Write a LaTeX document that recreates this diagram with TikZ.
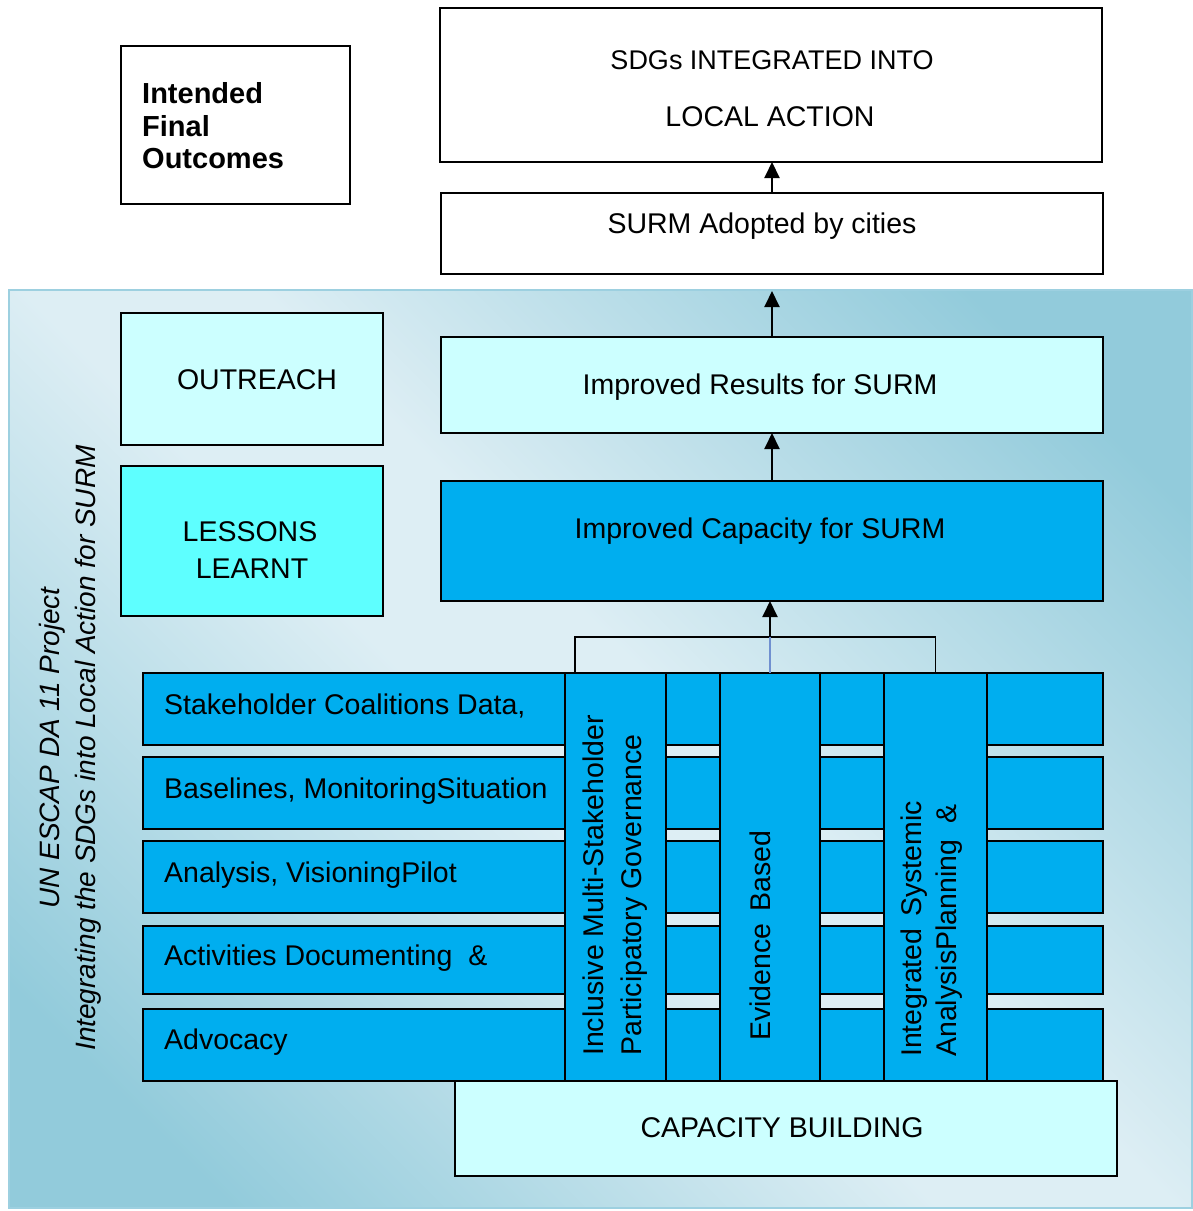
\documentclass[tikz,border=0pt]{standalone}
\usepackage{fontspec}
\setmainfont{Liberation Sans}
\usetikzlibrary{arrows.meta}
\definecolor{bgdark}{HTML}{92CBDB}
\definecolor{bglight}{HTML}{DDEEF4}
\definecolor{bgedge}{HTML}{9DD0E0}
\definecolor{paleC}{HTML}{CCFFFF}
\definecolor{cyanC}{HTML}{5EFFFF}
\definecolor{blueC}{HTML}{00AEEF}
\definecolor{linkblue}{HTML}{7090D0}
\pgfdeclarehorizontalshading{bgshade}{100bp}{color(0bp)=(bgdark); color(22bp)=(bgdark); color(46bp)=(bglight); color(54bp)=(bglight); color(78bp)=(bgdark); color(100bp)=(bgdark)}
\begin{document}
\begin{tikzpicture}[x=1pt,y=-1pt,
  box/.style={draw=black, line width=1.8pt, inner sep=0pt, outer sep=0pt, anchor=north west},
  txt/.style={inner sep=0pt, anchor=base, font=\fontsize{28.5}{34}\selectfont},
  ltxt/.style={txt, anchor=base west},
  rtxt/.style={inner sep=0pt, anchor=base west, rotate=90, font=\fontsize{28.5}{34}\selectfont},
  arr/.style={-{Triangle[width=15pt,length=16pt]}, line width=2pt}]
\useasboundingbox (0,0) rectangle (1193,1211);
\fill[white] (0,0) rectangle (1193,1211);
\shade[shading=bgshade, shading angle=45] (9,290) rectangle (1192,1208);
\draw[bgedge, line width=2pt] (9,290) rectangle (1192,1208);
% top outcome boxes
\node[box, fill=white, line width=1.4pt, minimum width=229, minimum height=158] (ifo) at (121,46) {};
\node[box, fill=white, minimum width=662, minimum height=154] (sdgs) at (440,8) {};
\node[box, fill=white, minimum width=662, minimum height=81] (sadopt) at (441,193) {};
% left boxes
\node[box, fill=paleC, minimum width=262, minimum height=132] (outr) at (121,313) {};
\node[box, fill=cyanC, minimum width=262, minimum height=150] (lessons) at (121,466) {};
% right boxes
\node[box, fill=paleC, minimum width=662, minimum height=96] (impres) at (441,337) {};
\node[box, fill=blueC, minimum width=662, minimum height=120] (impcap) at (441,481) {};
% rows
\node[box, fill=blueC, minimum width=960, minimum height=72] (r1) at (143,673) {};
\node[box, fill=blueC, minimum width=960, minimum height=72] (r2) at (143,757) {};
\node[box, fill=blueC, minimum width=960, minimum height=72] (r3) at (143,841) {};
\node[box, fill=blueC, minimum width=960, minimum height=68] (r4) at (143,926) {};
\node[box, fill=blueC, minimum width=960, minimum height=72] (r5) at (143,1009) {};
% columns
\node[box, fill=blueC, minimum width=101, minimum height=408] (c1) at (565,673) {};
\node[box, fill=blueC, minimum width=100, minimum height=408] (c2) at (720,673) {};
\node[box, fill=blueC, minimum width=103, minimum height=408] (c3) at (884,673) {};
% capacity building
\node[box, fill=paleC, minimum width=662, minimum height=95] (capb) at (455,1081) {};
% texts
\node[ltxt, font=\bfseries\fontsize{29}{33}\selectfont] (ifo1) at (142,103) {Intended};
\node[ltxt, font=\bfseries\fontsize{29}{33}\selectfont] (ifo2) at (142,136) {Final};
\node[ltxt, font=\bfseries\fontsize{29}{33}\selectfont] (ifo3) at (142,168) {Outcomes};
\node[txt, font=\fontsize{27}{33}\selectfont] (sdg1) at (772,69.5) {SDGs INTEGRATED INTO};
\node[txt] (sdg2) at (770,126) {LOCAL ACTION};
\node[txt] (sad) at (762,233) {SURM Adopted by cities};
\node[txt] (outt) at (257,389) {OUTREACH};
\node[txt] (les1) at (250,541) {LESSONS};
\node[txt] (les2) at (252,578) {LEARNT};
\node[txt] (irt) at (760,394) {Improved Results for SURM};
\node[txt] (ict) at (760,538) {Improved Capacity for SURM};
\node[ltxt] (rt1) at (164,714) {Stakeholder Coalitions Data,};
\node[ltxt] (rt2) at (164,798) {Baselines, MonitoringSituation};
\node[ltxt] (rt3) at (164,882) {Analysis, VisioningPilot};
\node[ltxt] (rt4) at (164,965) {Activities Documenting\ \ \&};
\node[ltxt] (rt5) at (164,1049) {Advocacy};
\node[rtxt] (ct1a) at (603,1056) {Inclusive Multi-Stakeholder};
\node[rtxt] (ct1b) at (641.5,1056) {Participatory Governance};
\node[rtxt] (ct2) at (770,1041) {Evidence\hspace{4pt} Based};
\node[rtxt] (ct3a) at (921,1057) {Integrated\hspace{4pt} Systemic};
\node[rtxt] (ct3b) at (956,1057) {AnalysisPlanning\ \ \&};
\node[txt] (capt) at (782,1137) {CAPACITY BUILDING};
\node[inner sep=0pt, anchor=base, rotate=90, font=\itshape\fontsize{28}{34}\selectfont] (tt1) at (59,748) {UN ESCAP DA 11 Project};
\node[inner sep=0pt, anchor=base, rotate=90, font=\itshape\fontsize{28}{34}\selectfont] (tt2) at (95,748) {Integrating the SDGs into Local Action for SURM};
% connectors
\coordinate (topin) at (772,291);
\draw[arr] (sadopt.north) -- (sadopt.north |- sdgs.south);
\draw[arr] (impres.north) -- (impres.north |- topin);
\draw[arr] (impcap.north) -- (impcap.north |- impres.south);
\draw[line width=1.8pt] ([xshift=10pt]c1.north west) -- ++(0,-36) -| (c3.north);
\draw[linkblue, line width=1.5pt] (c2.north) -- ++(0,-36) coordinate (bj);
\draw[arr] (bj) -- (bj |- impcap.south);
\end{tikzpicture}
\end{document}
